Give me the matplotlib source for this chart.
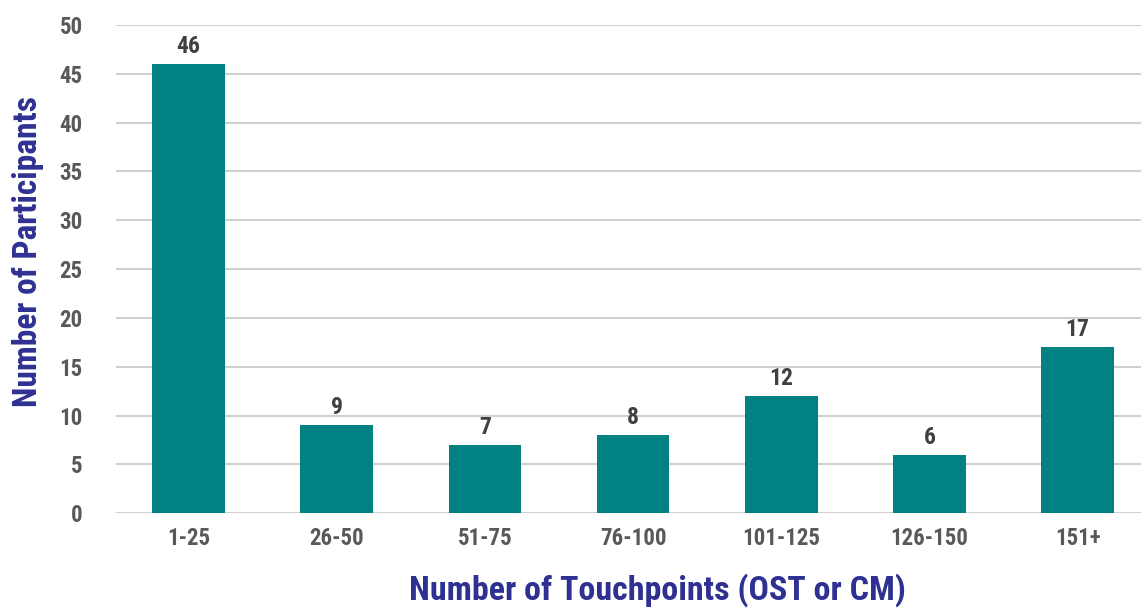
import matplotlib
matplotlib.use("Agg")
import matplotlib.pyplot as plt
from matplotlib import font_manager

categories = ["1-25", "26-50", "51-75", "76-100", "101-125", "126-150", "151+"]
participants = [46, 9, 7, 8, 12, 6, 17]
yticks = [0, 5, 10, 15, 20, 25, 30, 35, 40, 45, 50]

names = set(f.name for f in font_manager.fontManager.ttflist)
fam = ["Liberation Sans Narrow", "DejaVu Sans"] if "Liberation Sans Narrow" in names else ["Roboto Condensed", "Liberation Sans", "DejaVu Sans"]
plt.rcParams["font.family"] = fam

teal = "#008282"
grey = "#595959"
navy = "#2E3192"

fig = plt.figure(figsize=(11.43, 6.08), dpi=100)
ax = fig.add_axes([0.1015, 0.156, 0.897, 0.803])

x = range(len(categories))
bars = ax.bar(x, participants, width=0.49, color=teal, zorder=3)
for xi, v in zip(x, participants):
    ax.text(xi, v + 0.6, str(v), ha="center", va="bottom", fontsize=17,
            fontweight="bold", color="#404040")

ax.set_ylim(0, 50)
ax.set_xlim(-0.49, 6.43)
ax.set_yticks(yticks)
ax.set_xticks(list(x))
ax.set_xticklabels(categories)
ax.yaxis.grid(True, color="#d0d0d0", linewidth=1.5, zorder=0)
ax.set_axisbelow(True)
for s in ax.spines.values():
    s.set_visible(False)
ax.tick_params(axis="both", length=0, labelsize=16.5, labelcolor=grey, pad=10)
for lab in ax.get_xticklabels() + ax.get_yticklabels():
    lab.set_fontweight("bold")
ax.tick_params(axis="y", pad=24)

ax.set_xlabel("Number of Touchpoints (OST or CM)", fontsize=24.5, fontweight="bold",
              color=navy, va="center", ha="center")
ax.set_ylabel("Number of Participants", fontsize=24, fontweight="bold",
              color=navy, va="center", ha="center")
ax.xaxis.set_label_coords(0.528, -0.158)
ax.yaxis.set_label_coords(-0.086, 0.535)

fig.savefig("out.png", dpi=100)
